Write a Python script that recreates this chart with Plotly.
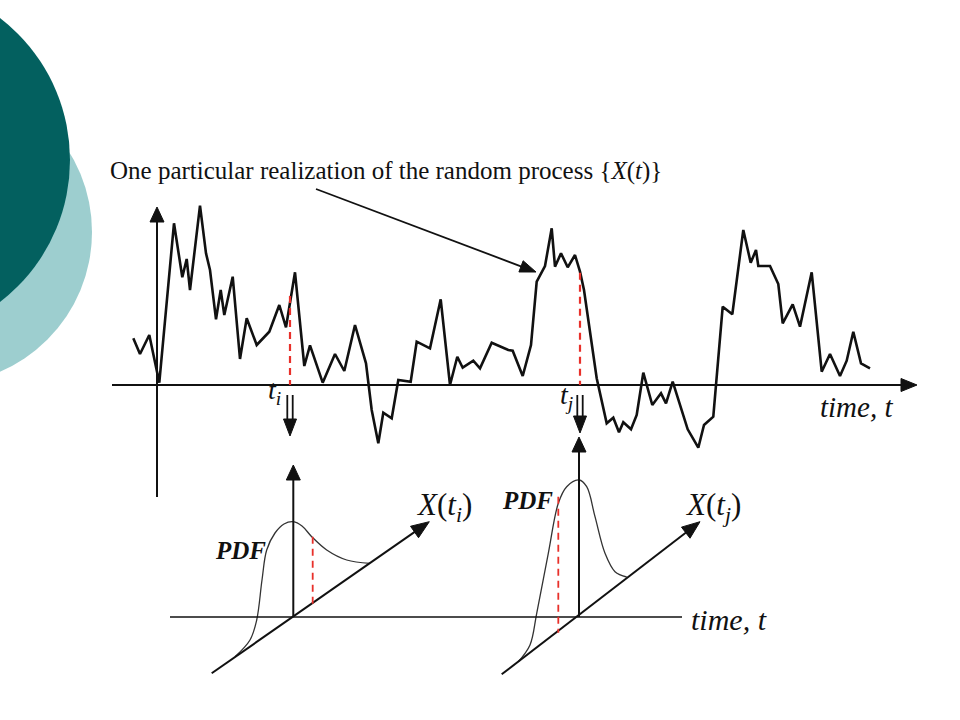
import plotly.graph_objects as go
import math

# ---------------- data (diagram coordinates, pixel-like units) ----------------
wave_x = [133.3, 140, 149.3, 159.3, 174, 182.3, 186.7, 190, 200, 206, 210, 216, 220.7, 224.3,
          232.7, 240, 246.7, 256.7, 269.3, 279.3, 286, 295, 304.3, 310, 322.7, 335, 344.3, 355,
          366, 371.7, 378.3, 383.3, 391.7, 398.3, 410.7, 416.7, 430, 440.7, 450, 457.3, 462.7,
          473.3, 480, 491.7, 508.3, 512.7, 522.7, 531, 536.7, 540, 545, 551.7, 555, 561, 567.7,
          575, 580, 584, 590, 596.7, 606.7, 613.3, 619, 623.3, 631, 636.7, 643.3, 652.3, 661,
          666, 672.7, 687.7, 698.3, 704, 713.3, 722.7, 732.3, 743.3, 750.7, 756, 758.3, 770,
          778.3, 782.7, 792.7, 800, 811.7, 821.7, 830, 840, 846.7, 853.3, 861, 870]
wave_y = [338.3, 354, 335, 382.7, 223.3, 277.3, 259, 290, 205.7, 253.3, 270, 319.3, 290, 315,
          276.7, 359, 318.3, 345, 331.7, 305, 327.3, 272.3, 366, 345.3, 382.7, 354, 371, 325,
          363.3, 410, 443.3, 412.7, 418.3, 380, 381.7, 341.7, 348.3, 299.3, 385, 356.7, 367.7,
          360.7, 368.3, 342.7, 350, 350.7, 376, 345, 281.7, 275, 266, 228.3, 266.7, 253.3, 267.3,
          255, 271.7, 290, 333.3, 378.3, 423.3, 417.7, 432.3, 422.3, 429.3, 415, 372.7, 405, 393.3,
          403.3, 381.7, 429.3, 447.7, 425, 416.7, 306.7, 314.3, 230, 262.7, 250, 266, 266,
          284, 323.3, 304.3, 326.7, 272.3, 371.7, 354, 376, 360.7, 331.7, 363.3, 368.3]

# PDF at t_i (skewed, long right tail)
pdf1_x = [235, 250, 256.7, 262, 266.7, 275, 284, 293.3, 302, 311.7, 326.7, 346.7, 370]
pdf1_y = [656.7, 640, 620, 580, 550, 533, 524, 521.7, 526, 536.7, 550, 560, 563.3]
# PDF at t_j (narrower, taller)
pdf2_x = [518.3, 530, 536.7, 548.3, 558.3, 566.7, 579, 586.7, 595, 605, 615, 626.7]
pdf2_y = [661.7, 645, 613.3, 553.3, 503.3, 486.7, 480, 486.7, 516.7, 553.3, 571.7, 577]

# Sample instants and where the realization is cut
t_i, t_j = 290, 580
cut_i_y, cut_j_y = 296, 272.7

BLACK = "#111111"
RED = "#e8302a"
DARK_TEAL = "#03605f"
LIGHT_TEAL = "#9dcecf"
SERIF = "Liberation Serif, Times New Roman, serif"
RED_DASH = "7px,5px"

fig = go.Figure()
shapes = []


def line(x0, y0, x1, y1, color=BLACK, width=2, dash="solid"):
    shapes.append(dict(type="line", x0=x0, y0=y0, x1=x1, y1=y1, xref="x", yref="y",
                       line=dict(color=color, width=width, dash=dash)))


def head(x0, y0, x1, y1, length=16, half=7, color=BLACK):
    """Filled arrowhead at (x1,y1) pointing along (x0,y0)->(x1,y1)."""
    dx, dy = x1 - x0, y1 - y0
    n = math.hypot(dx, dy)
    ux, uy = dx / n, dy / n
    bx, by = x1 - ux * length, y1 - uy * length
    px, py = -uy, ux
    path = (f"M {x1},{y1} L {bx + px * half},{by + py * half} "
            f"L {bx - px * half},{by - py * half} Z")
    shapes.append(dict(type="path", path=path, xref="x", yref="y",
                       fillcolor=color, line=dict(color=color, width=1)))


def arrow(x0, y0, x1, y1, width=2, length=16, half=7):
    n = math.hypot(x1 - x0, y1 - y0)
    sx = x1 - (x1 - x0) / n * (length - 2)
    sy = y1 - (y1 - y0) / n * (length - 2)
    line(x0, y0, sx, sy, width=width)
    head(x0, y0, x1, y1, length, half)


# background circles
shapes.append(dict(type="circle", xref="x", yref="y", x0=-60 - 152, x1=-60 + 152,
                   y0=232 - 152, y1=232 + 152, fillcolor=LIGHT_TEAL, line=dict(width=0), layer="below"))
shapes.append(dict(type="circle", xref="x", yref="y", x0=-109 - 179, x1=-109 + 179,
                   y0=160 - 179, y1=160 + 179, fillcolor=DARK_TEAL, line=dict(width=0), layer="below"))

# ---------------- upper panel ----------------
arrow(112, 385, 917, 385, width=2, length=16, half=6.5)     # time axis
arrow(157, 497, 157, 207, width=2, length=15, half=7)       # value axis

# callout arrow
arrow(316, 189, 536, 272, width=1.8, length=16, half=6)

# red dashed cuts
line(t_i, cut_i_y, t_i, 385, color=RED, width=2.2, dash=RED_DASH)
line(t_j, cut_j_y, t_j, 385, color=RED, width=2.2, dash=RED_DASH)

# double arrows
for tx, tip in ((t_i, 436), (t_j, 433)):
    line(tx - 2.7, 395, tx - 2.7, tip - 12, width=1.8)
    line(tx + 2.7, 395, tx + 2.7, tip - 12, width=1.8)
    head(tx, 395, tx, tip, length=17, half=6.5)

# ---------------- lower panel ----------------
line(170, 617, 682, 617, width=1.6)
arrow(293.3, 617, 293.3, 465, width=2, length=15, half=7)
arrow(579, 617, 579, 437, width=2, length=15, half=7)
arrow(211.7, 673.3, 429.3, 521.7, width=2, length=18, half=7)
arrow(501.7, 674.3, 700, 521.7, width=2, length=18, half=7)
line(312.7, 536.7, 312.7, 604, color=RED, width=1.8, dash=RED_DASH)
line(558.3, 496.7, 558.3, 632.7, color=RED, width=1.8, dash=RED_DASH)

fig.add_trace(go.Scatter(x=wave_x, y=wave_y, mode="lines",
                         line=dict(color=BLACK, width=2.6), hoverinfo="skip"))
fig.add_trace(go.Scatter(x=pdf1_x, y=pdf1_y, mode="lines", line_shape="spline",
                         line=dict(color="#333333", width=1.3), hoverinfo="skip"))
fig.add_trace(go.Scatter(x=pdf2_x, y=pdf2_y, mode="lines", line_shape="spline",
                         line=dict(color="#333333", width=1.3), hoverinfo="skip"))

annotations = []


def text(x, y, s, size, italic=False, bold=False, xanchor="center"):
    if italic:
        s = f"<i>{s}</i>"
    if bold:
        s = f"<b>{s}</b>"
    annotations.append(dict(x=x, y=y, xref="x", yref="y", text=s, showarrow=False,
                            xanchor=xanchor, yanchor="middle",
                            font=dict(family=SERIF, size=size, color="#111111")))


text(108, 171, "One particular realization of the random process {<i>X</i>(<i>t</i>)}", 25, xanchor="left")
text(856, 407, "time, t", 29, italic=True)
text(274, 391, "t<sub>i</sub>", 28, italic=True)
text(566, 396, "t<sub>j</sub>", 28, italic=True)
text(240, 550, "PDF", 25, italic=True, bold=True)
text(527, 500, "PDF", 25, italic=True, bold=True)
text(444, 507, "<i>X</i>(<i>t<sub>i</sub></i>)", 31)
text(713, 507, "<i>X</i>(<i>t<sub>j</sub></i>)", 31)
text(729, 619, "time, t", 30, italic=True)

fig.update_layout(
    width=960, height=720,
    margin=dict(l=0, r=0, t=0, b=0),
    paper_bgcolor="white", plot_bgcolor="white",
    showlegend=False,
    xaxis=dict(range=[0, 960], visible=False, fixedrange=True),
    yaxis=dict(range=[720, 0], visible=False, fixedrange=True),
    shapes=shapes,
    annotations=annotations,
)

fig.write_html("out.html", config={"displayModeBar": False},
               post_script="document.body.style.margin='0';")
